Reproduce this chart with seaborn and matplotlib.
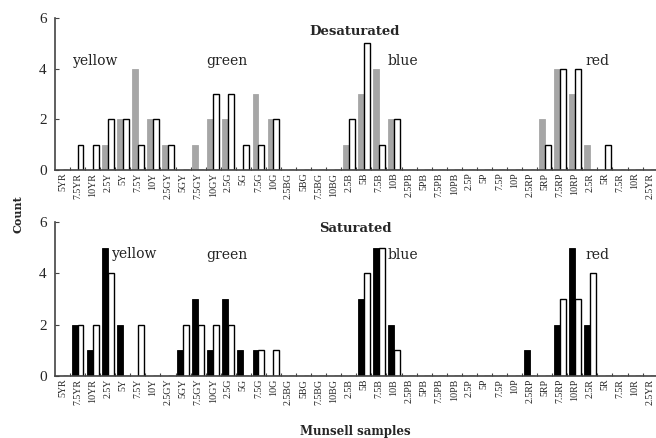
import numpy as np
import pandas as pd
import seaborn as sns
import matplotlib.pyplot as plt

samples = ['5YR', '7.5YR', '10YR', '2.5Y', '5Y', '7.5Y', '10Y', '2.5GY', '5GY', '7.5GY',
           '10GY', '2.5G', '5G', '7.5G', '10G', '2.5BG', '5BG', '7.5BG', '10BG', '2.5B',
           '5B', '7.5B', '10B', '2.5PB', '5PB', '7.5PB', '10PB', '2.5P', '5P', '7.5P',
           '10P', '2.5RP', '5RP', '7.5RP', '10RP', '2.5R', '5R', '7.5R', '10R', '2.5YR']

# desaturated panel: gray = first series, white = second series
desat_a = [0, 0, 0, 1, 2, 4, 2, 1, 0, 1, 2, 2, 0, 3, 2, 0, 0, 0, 0, 1,
           3, 4, 2, 0, 0, 0, 0, 0, 0, 0, 0, 0, 2, 4, 3, 1, 0, 0, 0, 0]
desat_b = [0, 1, 1, 2, 2, 1, 2, 1, 0, 0, 3, 3, 1, 1, 2, 0, 0, 0, 0, 2,
           5, 1, 2, 0, 0, 0, 0, 0, 0, 0, 0, 0, 1, 4, 4, 0, 1, 0, 0, 0]
# saturated panel: black = first series, white = second series
sat_a = [0, 2, 1, 5, 2, 0, 0, 0, 1, 3, 1, 3, 1, 1, 0, 0, 0, 0, 0, 0,
         3, 5, 2, 0, 0, 0, 0, 0, 0, 0, 0, 1, 0, 2, 5, 2, 0, 0, 0, 0]
sat_b = [0, 2, 2, 4, 0, 2, 0, 0, 2, 2, 2, 2, 0, 1, 1, 0, 0, 0, 0, 0,
         4, 5, 1, 0, 0, 0, 0, 0, 0, 0, 0, 0, 0, 3, 3, 4, 0, 0, 0, 0]

hue_names = ['yellow', 'green', 'blue', 'red']
hue_x = [0.7, 9.55, 21.6, 34.7]
top_y = [4.3, 4.3, 4.3, 4.3]
bot_y = [4.75, 4.7, 4.7, 4.7]
bot_x = [3.3, 9.55, 21.6, 34.7]

sns.set_style('ticks')
plt.rcParams['font.family'] = ['DejaVu Serif']

fig = plt.figure(figsize=(6.56, 4.38), dpi=100)
ax1 = fig.add_axes([0.0838, 0.612, 0.9162, 0.347])
ax2 = fig.add_axes([0.0838, 0.1416, 0.9162, 0.3516])


def panel(ax, a, b, first_color):
    df = pd.DataFrame({'sample': samples * 2,
                       'count': a + b,
                       'series': ['a'] * len(samples) + ['b'] * len(samples)})
    sns.barplot(data=df, x='sample', y='count', hue='series', order=samples,
                palette={'a': first_color, 'b': 'white'}, width=0.78,
                legend=False, ax=ax, saturation=1)
    for p in ax.containers[0]:
        p.set_edgecolor(first_color)
        p.set_linewidth(0.6)
    for p in ax.containers[1]:
        p.set_edgecolor('black')
        p.set_linewidth(1.0)
    ax.set_xlim(-0.5, 39.39)
    ax.set_ylim(0, 6)
    ax.set_yticks([0, 2, 4, 6])
    ax.set_xticks(range(len(samples)))
    ax.set_xticklabels(samples, rotation=90, fontfamily='Liberation Serif', fontsize=7.2)
    ax.set_xticks(np.arange(0.5, 39, 1), minor=True)
    ax.tick_params(axis='x', which='major', length=0, pad=2)
    ax.tick_params(axis='x', which='minor', direction='in', length=2.5, width=0.8, color='#444444')
    ax.tick_params(axis='y', direction='in', length=3, width=0.8, labelsize=10, pad=6, color='#444444')
    for lab in ax.get_yticklabels():
        lab.set_fontfamily('Liberation Serif')
        lab.set_fontsize(11)
    sns.despine(ax=ax)
    for s in ['left', 'bottom']:
        ax.spines[s].set_color('#444444')
        ax.spines[s].set_linewidth(1.2)
    ax.set_xlabel('')
    ax.set_ylabel('')


panel(ax1, desat_a, desat_b, '#a6a6a6')
panel(ax2, sat_a, sat_b, 'black')

for name, x, y in zip(hue_names, hue_x, top_y):
    ax1.text(x, y, name, fontsize=10, va='center', ha='left', color='#222222')
for name, x, y in zip(hue_names, bot_x, bot_y):
    ax2.text(x, y, name, fontsize=10, va='center', ha='left', color='#222222')

fig.text(0.541, 0.927, 'Desaturated', ha='center', va='center', fontsize=9.5, fontweight='bold')
fig.text(0.541, 0.478, 'Saturated', ha='center', va='center', fontsize=9.5, fontweight='bold')
fig.text(0.028, 0.51, 'Count', rotation=90, ha='center', va='center', fontsize=8, fontweight='bold')
fig.text(0.541, 0.014, 'Munsell samples', ha='center', va='center', fontsize=8.5, fontweight='bold')

fig.savefig('out.png', dpi=100)
